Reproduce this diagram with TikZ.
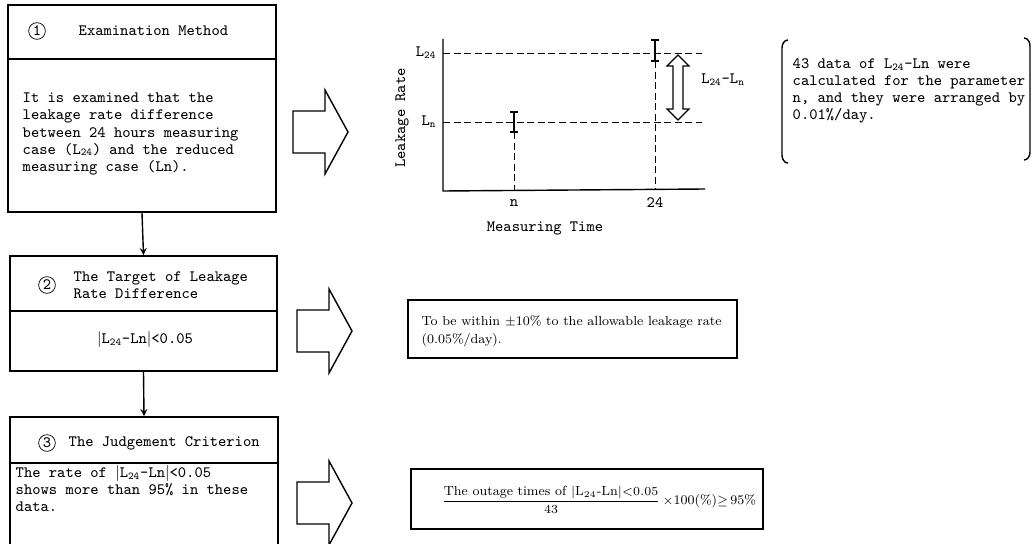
\documentclass[tikz,border=0pt]{standalone}
\usepackage{amsmath}
\usetikzlibrary{fit}

\begin{document}
\begin{tikzpicture}[x=0.02cm,y=-0.02cm,thick,
  every node/.style={font=\fontsize{9}{9.7}\selectfont\ttfamily,inner sep=0pt},
  frame/.style={draw,inner sep=0pt,line width=1pt},
  num/.style={draw,circle,inner sep=0pt,minimum size=9.5pt,thin},
  guide/.style={dash pattern=on 4pt off 2pt,thin},
  prop/.style={font=\fontsize{7.5}{10}\selectfont\rmfamily}]
\def\ew{4}
\def\fatarrow#1#2{\draw[line width=0.8pt] (#1,#2) ++(0,-21) -- ++(32,0) -- ++(0,-21) -- ++(23,42) -- ++(-23,42) -- ++(0,-21) -- ++(-32,0) -- cycle;}
\useasboundingbox (0,0) rectangle (1035,544);

% left column
\node[frame,fit={(8,5)(276,212)}] (method) {};
\draw[line width=1pt] (8,59) -- (276,59);
\node[num] (n1) at (37,31) {1};
\node[anchor=west] (h1) at (78,31) {Examination Method};
\node[anchor=west,align=left] (b1) at (22,134) {It is examined that the\\leakage rate difference\\between 24 hours measuring\\case (L\textsubscript{24}) and the reduced\\measuring case (Ln).};

\node[frame,fit={(10,256)(277,371)}] (target) {};
\draw[line width=1pt] (10,311) -- (277,311);
\node[num] (n2) at (47,285) {2};
\node[anchor=west,align=left] (h2) at (73,285) {The Target of Leakage\\Rate Difference};
\node (b2) at (145,340) {$|$L\textsubscript{24}-Ln$|$<0.05};

\node[frame,fit={(10,417)(278,550)}] (judge) {};
\draw[line width=1pt] (10,463) -- (278,463);
\node[num] (n3) at (47,443) {3};
\node[anchor=west] (h3) at (68,443) {The Judgement Criterion};
\node[anchor=west,align=left] (b3) at (15,489) {The rate of $|$L\textsubscript{24}-Ln$|$<0.05\\shows more than 95\% in these\\data.};

\draw[->,>=stealth] (method.south) -- (target.north);
\draw[->,>=stealth] (target.south) -- (judge.north);

\fatarrow{293}{132}
\fatarrow{297}{331}
\fatarrow{297}{503}

% chart
\draw (443,39) -- (443,191) -- (705,189);
\draw[guide] (443,53) -- (702,53);
\draw[guide] (443,122) -- (702,122);
\draw[guide] (514,132) -- (514,191);
\draw[guide] (655,61) -- (655,190);
\draw (514,112) -- (514,132) (514-\ew,112) -- (514+\ew,112) (514-\ew,132) -- (514+\ew,132);
\draw (655,40) -- (655,61) (655-\ew,40) -- (655+\ew,40) (655-\ew,61) -- (655+\ew,61);
\draw[line width=0.7pt] (678,55) -- (689,66) -- (683,66) -- (683,109) -- (689,109) -- (678,120)
  -- (667,109) -- (673,109) -- (673,66) -- (667,66) -- cycle;
\node[anchor=east] (l24) at (437,53) {L\textsubscript{24}};
\node[anchor=east] (ln) at (437,122) {L\textsubscript{n}};
\node[rotate=90] (ylab) at (402,118) {Leakage Rate};
\node (xn) at (514,203) {n};
\node (x24) at (655,203) {24};
\node (xlab) at (545,228) {Measuring Time};
\node (diff) at (723,80) {L\textsubscript{24}-L\textsubscript{n}};

% notes
\draw (788,40) to[out=180,in=90] (782,48) -- (782,155) to[out=-90,in=180] (788,163);
\draw (1024,38) to[out=0,in=90] (1030,46) -- (1030,152) to[out=-90,in=0] (1024,160);
\node[anchor=west,align=left] (note) at (792,91) {43 data of L\textsubscript{24}-Ln were\\calculated for the parameter\\n, and they were arranged by\\0.01\%/day.};

\node[frame,fit={(408,300)(737,358)}] (allow) {};
\node[prop,anchor=west,align=left] (t2) at (421,331) {To be within $\pm$10\% to the allowable leakage rate\\(0.05\%/day).};

\node[frame,fit={(411,469)(763,529)}] (rate) {};
\node[prop,anchor=west] (t3) at (441,500) {$\dfrac{\text{The outage times of }|\text{L}_{24}\text{-Ln}|{<}0.05}{43}$\,$\times$100(\%)$\geq$\,95\%};
\end{tikzpicture}
\end{document}
